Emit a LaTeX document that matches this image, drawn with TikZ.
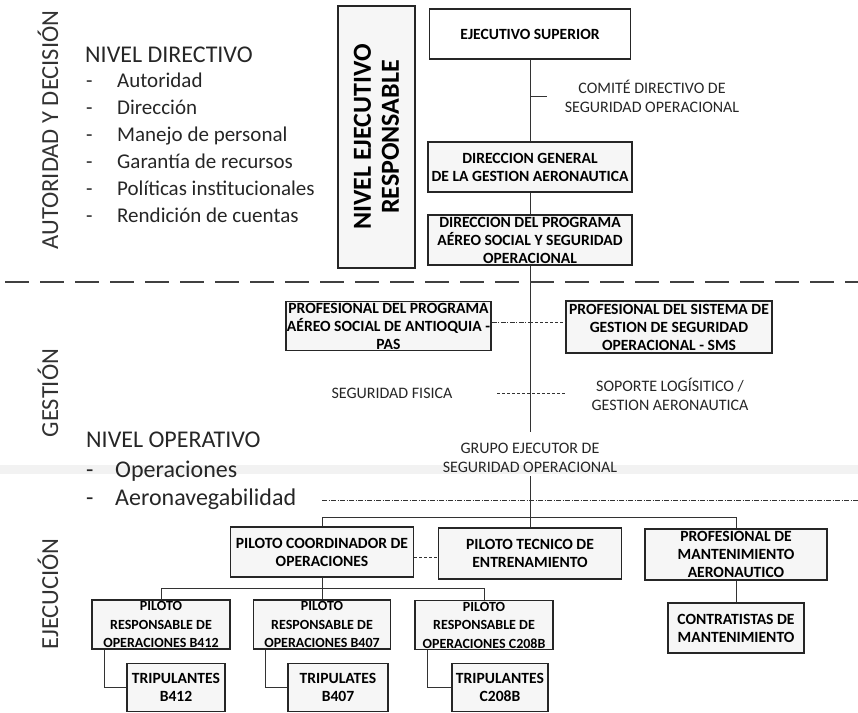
\documentclass[tikz,border=0pt]{standalone}
\usepackage{fontspec}
\setmainfont{Carlito}

\def\titfont{\fontsize{24}{24}\selectfont}
\def\itemfont{\fontsize{21}{21}\selectfont}
\def\opfont{\fontsize{24}{24}\selectfont}
\def\ladofont{\fontsize{24.5}{24.5}\selectfont}
\def\cajafont{\fontsize{15.6}{18}\selectfont\bfseries}
\def\pilotofont{\fontsize{14}{18.5}\selectfont\bfseries}
\def\rotulofont{\fontsize{16}{19}\selectfont}
\def\nivelfont{\fontsize{26}{28}\selectfont\bfseries}

\begin{document}
\begin{tikzpicture}[x=1pt,y=-1pt,
  caja/.style={draw=black!85, line width=1.2pt, fill=gray!7, align=center, inner sep=0pt, font=\cajafont},
  gruesa/.style={line width=1.9pt},
  rotulo/.style={align=center, font=\rotulofont, text=black!85},
  lado/.style={rotate=90, anchor=base, inner sep=0pt, font=\ladofont, text=black!80},
  item/.style={anchor=base west, inner sep=0pt, font=\itemfont, text=black!85},
  conector/.style={line width=0.7pt, draw=black!80},
  punteada/.style={conector, dash pattern=on 3pt off 2pt},
  rayapunto/.style={conector, dash pattern=on 5pt off 1.5pt on 1pt off 1.5pt},
]
\useasboundingbox (0,0) rectangle (858,712);

%watermark band (light gray)
\fill[gray!10] (0,465) rectangle (858,474);

%left side: levels
\node[lado] (autoridad) at (58,130) {AUTORIDAD Y DECISIÓN};
\node[lado] (gestion) at (58,393) {GESTIÓN};
\node[lado] (ejecucion) at (58,594) {EJECUCIÓN};

\node[anchor=base west, inner sep=0pt, font=\titfont, text=black!85] (dirtit) at (85,62) {NIVEL DIRECTIVO};
\foreach \t [count=\i] in {Autoridad, Dirección, Manejo de personal, Garantía de recursos, Políticas institucionales, Rendición de cuentas}{
    \node[item] (dir\i) at (86,60+27*\i) {\makebox[31pt][l]{-}\t};
}
\node[anchor=base west, inner sep=0pt, font=\titfont, text=black!85] (optit) at (86,447) {NIVEL OPERATIVO};
\node[item, font=\opfont] (oper) at (86,477) {\makebox[29pt][l]{-}Operaciones};
\node[item, font=\opfont] (aero) at (86,505) {\makebox[29pt][l]{-}Aeronavegabilidad};

%top: nivel directivo
\node[caja, rotate=90, minimum width=262, minimum height=77, font=\nivelfont] (nivel) at (376.5,137) {NIVEL EJECUTIVO\\RESPONSABLE};
\node[caja, minimum width=201, minimum height=50, fill=white] (ejec) at (530,34) {EJECUTIVO SUPERIOR};
\node[caja, minimum width=204, minimum height=50] (dirgen) at (530,167) {DIRECCION GENERAL\\DE LA GESTION AERONAUTICA};
\node[caja, minimum width=204, minimum height=50] (dirprog) at (530,240) {DIRECCION DEL PROGRAMA\\AÉREO SOCIAL Y SEGURIDAD\\OPERACIONAL};
\node[rotulo] (comite) at (652,96) {COMITÉ DIRECTIVO DE\\SEGURIDAD OPERACIONAL};

\coordinate (cd) at (547,96);
\coordinate (gtop) at (530,432);
\draw[conector] (ejec.south) -- (dirgen.north);
\draw[conector] (cd -| ejec.south) -- (cd);
\draw[conector] (dirgen.south) -- (dirprog.north);
\draw[conector] (dirprog.south) -- (gtop);

%separator
\coordinate (sepizq) at (5,282);
\coordinate (sepder) at (858,282);
\draw[line width=1.8pt, dash pattern=on 24pt off 11pt, black!75] (sepizq) -- (sepder);

%gestion
\node[caja, gruesa, minimum width=205, minimum height=49] (pas) at (388.5,326) {PROFESIONAL DEL PROGRAMA\\AÉREO SOCIAL DE ANTIOQUIA -\\PAS};
\node[caja, gruesa, minimum width=206, minimum height=52] (sms) at (669,327) {PROFESIONAL DEL SISTEMA DE\\GESTION DE SEGURIDAD\\OPERACIONAL - SMS};
\coordinate (ge) at (530,322);
\draw[rayapunto] (pas.east |- ge) -- (ge);
\draw[punteada] (ge) -- (ge -| sms.west);

\node[rotulo] (segfis) at (392,393) {SEGURIDAD FISICA};
\node[rotulo] (soporte) at (670,394) {SOPORTE LOGÍSITICO /\\GESTION AERONAUTICA};
\coordinate (sf1) at (497,393);
\coordinate (sf2) at (565,393);
\draw[punteada] (sf1) -- (sf2);

%ejecucion
\node[rotulo] (grupo) at (530,458) {GRUPO EJECUTOR DE\\SEGURIDAD OPERACIONAL};
\coordinate (op1) at (322,500);
\coordinate (op2) at (858,500);
\draw[rayapunto] (op1) -- (op2);

\node[caja, minimum width=183, minimum height=50] (coord) at (322,552) {PILOTO COORDINADOR DE\\OPERACIONES};
\node[caja, minimum width=183, minimum height=51] (tecnico) at (530,553.5) {PILOTO TECNICO DE\\ENTRENAMIENTO};
\node[caja, minimum width=182, minimum height=51] (mant) at (736,554.5) {PROFESIONAL DE\\MANTENIMIENTO\\AERONAUTICO};
\node[caja, minimum width=136, minimum height=50] (contr) at (736,628) {CONTRATISTAS DE\\MANTENIMIENTO};

\coordinate (bus) at (530,517);
\coordinate (ct) at (420,557);
\draw[conector] (grupo.south) -- (tecnico.north);
\draw[conector] (coord.north) |- (bus -| mant.north) -- (mant.north);
\draw[punteada] (coord.east |- ct) -- (tecnico.west |- ct);
\draw[conector] (mant.south) -- (contr.north);

\node[caja, gruesa, font=\pilotofont, minimum width=138, minimum height=49] (b412) at (161,624.5) {PILOTO\\RESPONSABLE DE\\OPERACIONES B412};
\node[caja, gruesa, font=\pilotofont, minimum width=137, minimum height=49] (b407) at (322,624.5) {PILOTO\\RESPONSABLE DE\\OPERACIONES B407};
\node[caja, gruesa, font=\pilotofont, minimum width=138, minimum height=49] (c208) at (484,625) {PILOTO\\RESPONSABLE DE\\OPERACIONES C208B};

\node[caja, gruesa, minimum width=98, minimum height=48] (t412) at (176,687.5) {TRIPULANTES\\B412};
\node[caja, gruesa, minimum width=100, minimum height=48] (t407) at (338,687.5) {TRIPULATES\\B407};
\node[caja, gruesa, minimum width=96, minimum height=48] (t208) at (500,687.5) {TRIPULANTES\\C208B};

\coordinate (bus2) at (322,588);
\draw[conector] (coord.south) -- (b407.north);
\draw[conector] (b412.north) |- (bus2 -| c208.north) -- (c208.north);
\draw[conector] ([xshift=13pt]b412.south west) |- (t412.west);
\draw[conector] ([xshift=13pt]b407.south west) |- (t407.west);
\draw[conector] ([xshift=13pt]c208.south west) |- (t208.west);

\end{tikzpicture}
\end{document}
